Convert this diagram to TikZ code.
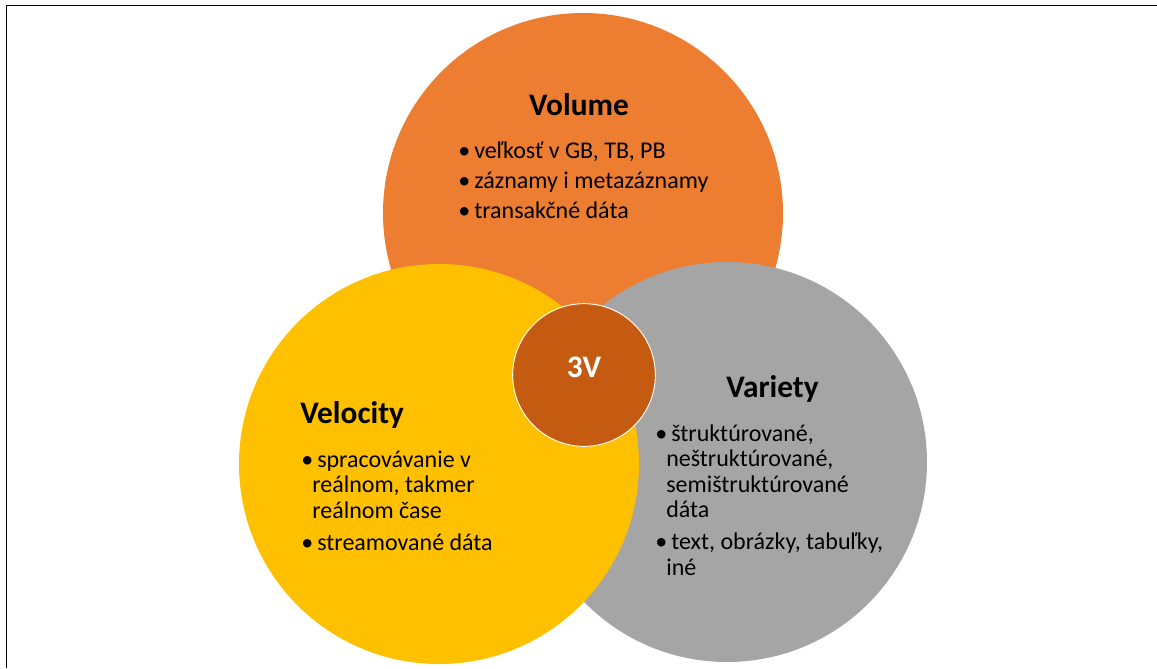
\documentclass[tikz,border=0pt]{standalone}
\usepackage{fontspec}
\setmainfont{Carlito}
\definecolor{volumecol}{HTML}{ED7D31}
\definecolor{velocitycol}{HTML}{FFC000}
\definecolor{varietycol}{HTML}{A5A5A5}
\definecolor{centercol}{HTML}{C55A11}
\newcommand{\firstitem}[1]{\makebox[12pt][l]{\textbullet}#1}
\newcommand{\moreitem}[1]{\hspace*{8.25pt}#1}
\begin{document}
\begin{tikzpicture}[x=0.75pt,y=-0.75pt,
    ring/.style={circle,minimum size=300pt,inner sep=0pt},
    head/.style={font=\fontsize{23.5}{28}\selectfont\bfseries,inner sep=0pt},
    items/.style={font=\fontsize{18}{19.2}\selectfont,align=left,inner sep=0pt,anchor=base west}]
  \useasboundingbox (0,0) rectangle (1157,668);
  \draw[line width=1.1pt] (6.5,668) -- (6.5,5.5) -- (1157,5.5);
  % the three V circles
  \node[ring,fill=volumecol] (volume) at (583,213) {};
  \node[ring,fill=varietycol] (variety) at (727,462) {};
  \node[ring,fill=velocitycol] (velocity) at (439,464) {};
  \node[circle,minimum size=107pt,inner sep=0pt,fill=centercol,draw=white,line width=0.7pt] (center) at (584,375) {};
  % texts (lists sit on the baseline of their last line)
  \node[head,anchor=base,text=white] (centerhead) at (584,377) {3V};
  \node[head,anchor=base] (volumehead) at (579,115) {Volume};
  \node[items] (volumelist) at (458,218) {\firstitem{veľkosť v GB, TB, PB}\\[3.3pt]
    \firstitem{záznamy i metazáznamy}\\[3.3pt]
    \firstitem{transakčné dáta}};
  \node[head,anchor=base west] (velocityhead) at (300,423) {Velocity};
  \node[items] (velocitylist) at (301,550) {\firstitem{spracovávanie v}\\
    \moreitem{reálnom, takmer}\\
    \moreitem{reálnom čase}\\[4.5pt]
    \firstitem{streamované dáta}};
  \node[head,anchor=base west] (varietyhead) at (726,397) {Variety};
  \node[items] (varietylist) at (655,575) {\firstitem{štruktúrované,}\\
    \moreitem{neštruktúrované,}\\
    \moreitem{semištruktúrované}\\
    \moreitem{dáta}\\[4.5pt]
    \firstitem{text, obrázky, tabuľky,}\\
    \moreitem{iné}};
\end{tikzpicture}
\end{document}
